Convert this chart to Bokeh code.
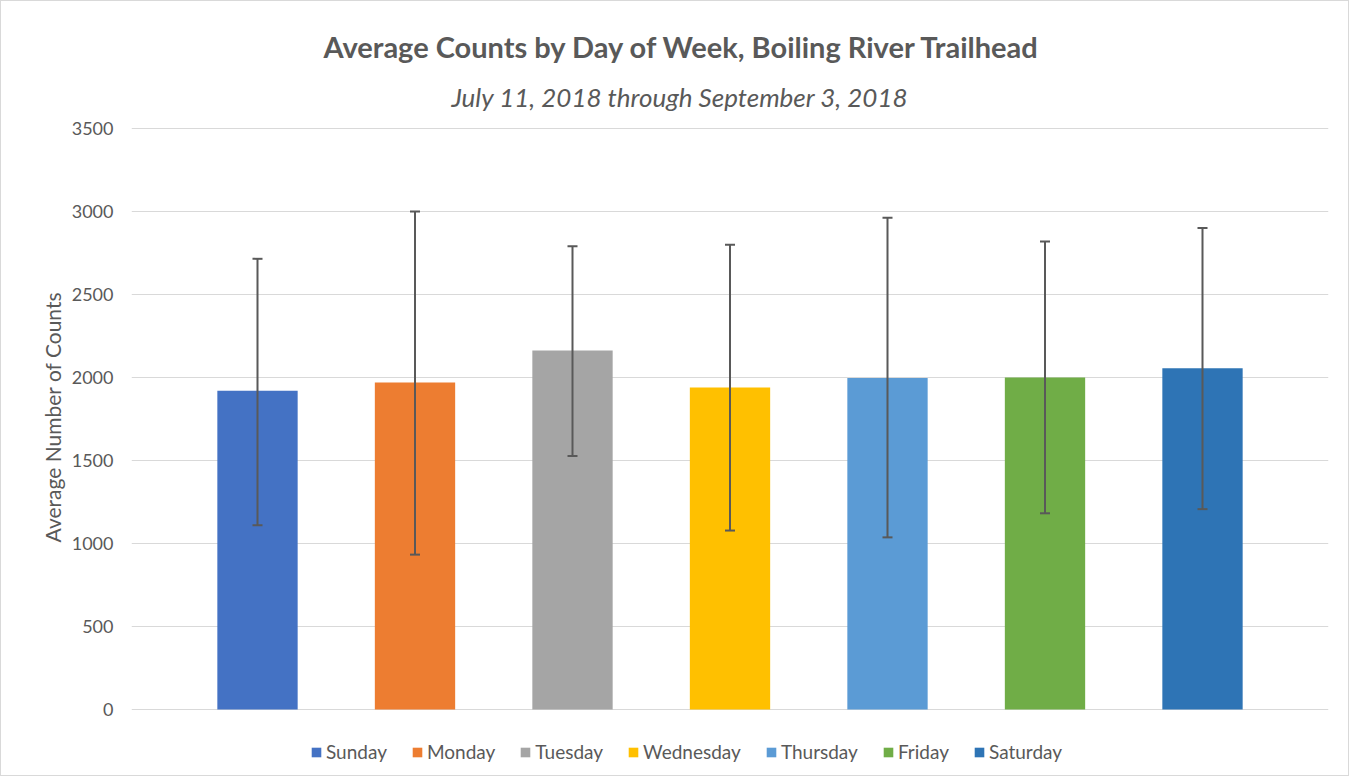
from bokeh.plotting import figure
from bokeh.models import (ColumnDataSource, FactorRange, Range1d, Whisker, TeeHead,
                          Legend, LegendItem, Title, FixedTicker)
from bokeh.embed import file_html
from bokeh.resources import INLINE

days = ["Sunday", "Monday", "Tuesday", "Wednesday", "Thursday", "Friday", "Saturday"]
means = [1920, 1970, 2163, 1940, 1997, 2000, 2055]
err_upper = [2715, 3000, 2790, 2800, 2962, 2820, 2900]
err_lower = [1110, 933, 1527, 1078, 1037, 1182, 1207]
colors = ["#4472C4", "#ED7D31", "#A5A5A5", "#FFC000", "#5B9BD5", "#70AD47", "#2E74B5"]
y_ticks = [0, 500, 1000, 1500, 2000, 2500, 3000, 3500]

FONT = "Lato"
GRAY = "#595959"

PX = 3500 / 581.0          # data units per pixel on the value axis
LEGEND_ROOM = 62           # pixels kept below the zero line for the legend

src = ColumnDataSource(dict(day=days, mean=means, up=err_upper, lo=err_lower, color=colors))

p = figure(frame_width=1197, frame_height=581 + LEGEND_ROOM + 1, output_backend="svg",
           toolbar_location=None,
           x_range=FactorRange(factors=days, range_padding=0.3, range_padding_units="absolute"),
           y_range=Range1d(-LEGEND_ROOM * PX, 3500 + PX),
           min_border_left=130, min_border_right=20, min_border_top=126, min_border_bottom=4)
p.outline_line_color = None
p.styles = {"border": "1px solid #D9D9D9", "box-sizing": "border-box"}

sub = Title(text="July 11, 2018 through September 3, 2018", text_font=FONT,
            text_font_size="26px", text_font_style="italic", text_color=GRAY,
            align="left", offset=320, standoff=30)
p.add_layout(sub, "above")

p.title.text = "Average Counts by Day of Week, Boiling River Trailhead"
p.title.text_font = FONT
p.title.text_font_size = "29px"
p.title.text_font_style = "bold"
p.title.text_color = GRAY
p.title.align = "left"
p.title.offset = 192
p.title.standoff = 0

bars = p.vbar(x="day", top="mean", width=0.51, color="color", source=src, line_color=None)

wh = Whisker(base="day", upper="up", lower="lo", source=src, line_color=GRAY, line_width=2,
             upper_head=TeeHead(size=10, line_color=GRAY, line_width=2),
             lower_head=TeeHead(size=10, line_color=GRAY, line_width=2), level="overlay")
p.add_layout(wh)

p.xgrid.grid_line_color = None
p.ygrid.grid_line_color = "#D9D9D9"
p.ygrid.grid_line_width = 1
p.xaxis.visible = False

p.yaxis.ticker = FixedTicker(ticks=y_ticks)
p.yaxis.axis_line_color = None
p.yaxis.major_tick_line_color = None
p.yaxis.minor_tick_line_color = None
p.yaxis.major_tick_out = 0
p.yaxis.major_tick_in = 0
p.yaxis.major_label_text_font = FONT
p.yaxis.major_label_text_font_size = "18px"
p.yaxis.major_label_text_color = GRAY
p.yaxis.major_label_standoff = 18

ylab = Title(text="Average Number of Counts", text_font=FONT, text_font_size="21px",
             text_font_style="normal", text_color=GRAY, align="left", offset=229, standoff=7)
p.add_layout(ylab, "left")

items = [LegendItem(label=d, renderers=[bars], index=i) for i, d in enumerate(days)]
legend = Legend(items=items, orientation="horizontal", location=(179, 8),
                label_text_font=FONT, label_text_font_size="19px", label_text_color=GRAY,
                glyph_width=12, glyph_height=12, label_standoff=4, spacing=24,
                border_line_color=None, background_fill_alpha=0, padding=0, margin=0)
p.add_layout(legend, "center")

open("out.html", "w").write(file_html(p, INLINE))
